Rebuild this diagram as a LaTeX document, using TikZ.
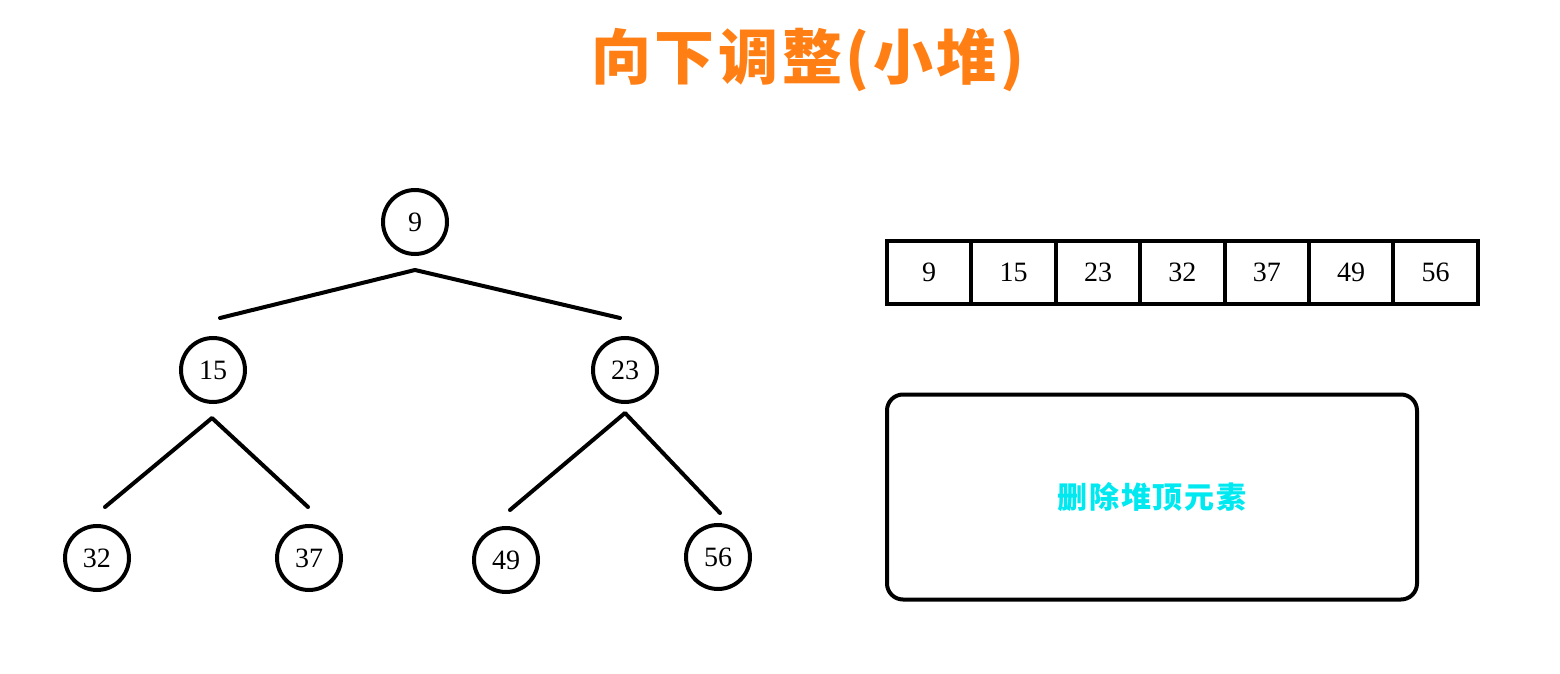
\documentclass[tikz,border=0pt]{standalone}
\usepackage{fontspec}
\setmainfont{Liberation Serif}
\newfontfamily\cjk{Noto Sans CJK SC}[LetterSpace=6]
\usetikzlibrary{positioning}
\definecolor{titleorange}{HTML}{FF7F15}
\definecolor{hintcyan}{HTML}{00E8F0}

\begin{document}
\begin{tikzpicture}[x=0.5pt,y=-0.5pt,
      font=\fontsize{14}{16}\selectfont,
      heapnode/.style={circle,draw,line width=2pt,minimum size=32pt,inner sep=0pt},
      cell/.style={draw,line width=2pt,minimum width=42.2pt,minimum height=31.5pt,inner sep=0pt},
      edge/.style={line width=2pt,line cap=round,line join=round}]

    \useasboundingbox (0,0) rectangle (1560,674);

    \node[text=titleorange,font=\cjk\bfseries\fontsize{30}{33}\selectfont] (title) at (808,60) {向下调整(小堆)};

    % tree
    \node[heapnode] (n9)  at (415,222) {9};
    \node[heapnode] (n15) at (213,370) {15};
    \node[heapnode] (n23) at (625,370) {23};
    \node[heapnode] (n32) at (97,558)  {32};
    \node[heapnode] (n37) at (309,558) {37};
    \node[heapnode] (n49) at (506,560) {49};
    \node[heapnode] (n56) at (718,557) {56};

    \coordinate (top9)  at (415,270);
    \coordinate (l9)    at (220,318);
    \coordinate (r9)    at (620,318);
    \coordinate (top15) at (212,418);
    \coordinate (l15)   at (105,507);
    \coordinate (r15)   at (308,507);
    \coordinate (top23) at (625,413);
    \coordinate (l23)   at (510,510);
    \coordinate (r23)   at (720,513);

    \draw[edge] (l9) -- (top9) -- (r9);
    \draw[edge] (l15) -- (top15) -- (r15);
    \draw[edge] (l23) -- (top23) -- (r23);

    % array
    \node[cell,anchor=north west] (c1) at (885,239) {9};
    \foreach \v [count=\i from 2, evaluate=\i as \j using int(\i-1)] in {15,23,32,37,49,56}
      \node[cell,right=-2pt of c\j] (c\i) {\v};

    % hint box
    \node[draw,line width=2pt,rounded corners=8pt,minimum width=265pt,minimum height=102.5pt,
          text=hintcyan,font=\cjk\bfseries\fontsize{15}{17}\selectfont] (hint) at (1152,497) {删除堆顶元素};
  \end{tikzpicture}
\end{document}
